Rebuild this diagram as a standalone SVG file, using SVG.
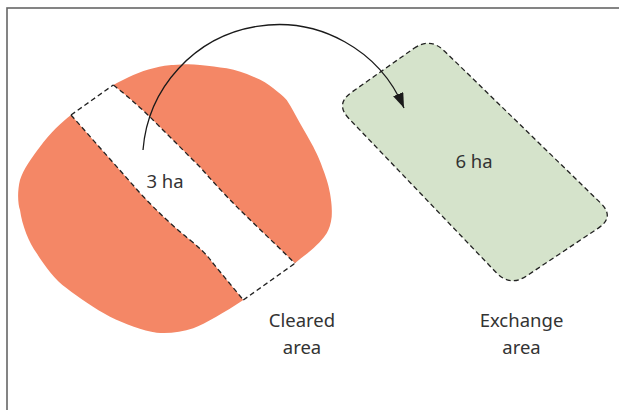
<svg xmlns="http://www.w3.org/2000/svg" width="619" height="410" viewBox="0 0 619 410">
<style>
.lbl{font-family:"Noto Sans","Open Sans","Liberation Sans",sans-serif;font-size:18.5px;fill:#333;text-anchor:middle}
.dash{fill:none;stroke:#222;stroke-width:1.3;stroke-dasharray:5 3.2}
.orange{fill:#F48766;stroke:none}
</style>
<defs>
<marker id="arrow" markerUnits="userSpaceOnUse" markerWidth="16" markerHeight="12" refX="15" refY="5.5" orient="auto">
<path d="M0,0 L15,5.5 L0,11 z" fill="#1a1a1a"/>
</marker>
</defs>
<rect x="7" y="8" width="700" height="500" fill="none" stroke="#666" stroke-width="1.6"/>

<g id="cleared-area">
<path class="orange" d="M71,115 C62,122 50,133 40,146.7 C32,157 23,170 20,180 C17,192 18,205 20,210 C22,225 29,243 36.7,253.3 C44,265 55,280 66.7,288.3 C78,297 95,309 110,316.7 C125,324 143,331 156.7,332.7 C168,334 182,332 193.3,328.3 C205,324 225,312 243.3,300 L212,262 Q205,252 190,240 Q165,220 140,193 Z"/>
<path class="orange" d="M113.3,85 C120,81 127,78 133.3,75 C140,72 147,70 153.3,68.3 C162,66 168,65 173.3,65 C185,64 192,64 200,65 C210,66 218,67 226.7,68.3 C236,70 245,73 253.3,76.7 C262,80 268,84 273.3,88.3 C279,93 283,96 286.7,100 C292,108 296,116 300,123.3 C305,132 309,139 313.3,146.7 C318,156 321,163 323.3,170 C327,180 329,187 330,193.3 C332,205 332,210 331.7,216.7 C331,224 329,229 326.7,233.3 C323,239 320,242 316.7,245 C310,252 302,257 295,263.3 L240,210 Q220,190 200,167 L153,120 Q135,102 113.3,85 Z"/>
<path class="dash" d="M71,115 L140,193 Q165,220 190,240 Q205,252 212,262 L243.3,300"/>
<path class="dash" d="M113.3,85 Q135,102 153,120 L200,167 Q220,190 240,210 L295,263.3"/>
<path class="dash" d="M71,115 L113.3,85"/>
<path class="dash" d="M243.3,300 L295,263.3"/>
<text class="lbl" x="165" y="188">3 ha</text>
</g>

<g id="exchange-area">
<path d="M413.65,48.53 Q430,37 444.34,50.95 L600.66,203.05 Q615,217 598.36,228.09 L526.64,275.91 Q510,287 496.18,272.55 L348.82,118.45 Q335,104 351.35,92.47 Z" fill="#D5E3CB" stroke="#222" stroke-width="1.3" stroke-dasharray="5 3.2"/>
<text class="lbl" x="474" y="168">6 ha</text>
</g>

<g id="connectors">
<path d="M143,150 A136,136 0 0 1 404,108" fill="none" stroke="#1a1a1a" stroke-width="1.3" marker-end="url(#arrow)"/>
</g>

<g id="labels">
<text class="lbl" x="302" y="327">Cleared</text>
<text class="lbl" x="302" y="354">area</text>
<text class="lbl" x="521.5" y="327">Exchange</text>
<text class="lbl" x="521.5" y="354">area</text>
</g>
</svg>
